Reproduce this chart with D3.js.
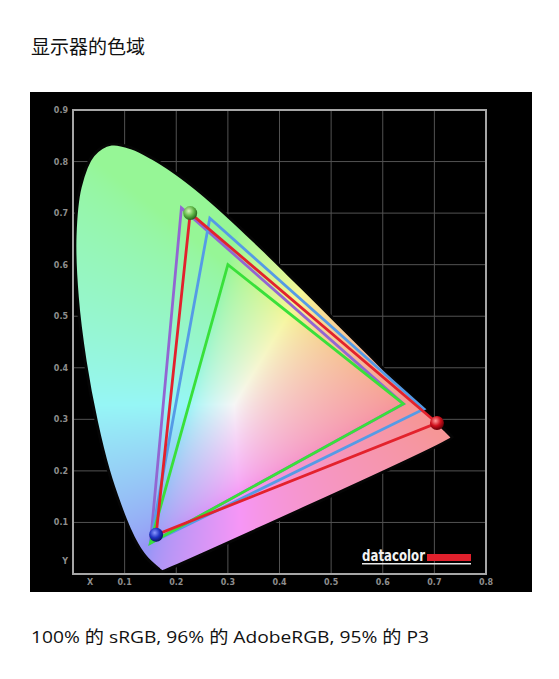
<!DOCTYPE html>
<html>
<head>
<meta charset="utf-8">
<title>显示器的色域</title>
<script src="https://cdn.jsdelivr.net/npm/d3@7"></script>
<style>
  body { margin: 0; background: #fff; }
  svg { display: block; }
  .tick-label { fill: #8e8e8e; font: bold 8px "DejaVu Sans", sans-serif; }
</style>
</head>
<body>
<div id="chart"></div>
<script>
// CIE 1931 spectral locus, 380 -> 700 nm
var locusX = [0.1741, 0.1740, 0.1738, 0.1736, 0.1733, 0.1730, 0.1726, 0.1721, 0.1714, 0.1703,
  0.1689, 0.1669, 0.1644, 0.1611, 0.1566, 0.1510, 0.1440, 0.1355, 0.1241, 0.1096,
  0.0913, 0.0687, 0.0454, 0.0235, 0.0082, 0.0039, 0.0139, 0.0389, 0.0743, 0.1142,
  0.1547, 0.1929, 0.2296, 0.2658, 0.3016, 0.3373, 0.3731, 0.4087, 0.4441, 0.4788,
  0.5125, 0.5448, 0.5752, 0.6029, 0.6270, 0.6482, 0.6658, 0.6801, 0.6915, 0.7006,
  0.7079, 0.7140, 0.7190, 0.7230, 0.7260, 0.7283, 0.7300, 0.7320, 0.7334, 0.7347];
var locusY = [0.0050, 0.0050, 0.0049, 0.0049, 0.0048, 0.0048, 0.0048, 0.0048, 0.0051, 0.0058,
  0.0069, 0.0086, 0.0109, 0.0138, 0.0177, 0.0227, 0.0297, 0.0399, 0.0578, 0.0868,
  0.1327, 0.2007, 0.2950, 0.4127, 0.5384, 0.6548, 0.7502, 0.8120, 0.8338, 0.8262,
  0.8059, 0.7816, 0.7543, 0.7243, 0.6923, 0.6589, 0.6245, 0.5896, 0.5547, 0.5202,
  0.4866, 0.4544, 0.4242, 0.3965, 0.3725, 0.3514, 0.3340, 0.3197, 0.3083, 0.2993,
  0.2920, 0.2859, 0.2809, 0.2770, 0.2740, 0.2717, 0.2700, 0.2680, 0.2666, 0.2653];

// gamut triangles (drawn in this order), primaries in order red, green, blue
var gamutNames = ["AdobeRGB", "P3", "sRGB", "Display"];
var gamutX = [
  [0.640, 0.210, 0.150],
  [0.680, 0.265, 0.150],
  [0.640, 0.300, 0.150],
  [0.705, 0.227, 0.161]
];
var gamutY = [
  [0.330, 0.710, 0.060],
  [0.320, 0.690, 0.060],
  [0.330, 0.600, 0.060],
  [0.293, 0.700, 0.076]
];

var xTicks = [0.1, 0.2, 0.3, 0.4, 0.5, 0.6, 0.7, 0.8];
var yTicks = [0.1, 0.2, 0.3, 0.4, 0.5, 0.6, 0.7, 0.8, 0.9];

var titleText = "显示器的色域";
var captionText = "100% 的 sRGB, 96% 的 AdobeRGB, 95% 的 P3";

var width = 559, height = 679;

var svg = d3.select("#chart").append("svg")
  .attr("width", width)
  .attr("height", height);

// title
svg.append("text")
  .attr("x", 31)
  .attr("y", 54)
  .style("font", "19px 'Noto Sans CJK SC', sans-serif")
  .style("fill", "#111")
  .text(titleText);

// black panel
svg.append("rect")
  .attr("x", 30).attr("y", 92)
  .attr("width", 502).attr("height", 500)
  .attr("fill", "#000");

var x = d3.scaleLinear().domain([0, 0.8]).range([73, 486]);
var y = d3.scaleLinear().domain([0, 0.9]).range([574, 110]);

// grid
var grid = svg.append("g").attr("stroke", "#525252").attr("stroke-width", 1);
grid.selectAll("line.v")
  .data(xTicks.slice(0, -1)).enter()
  .append("line").attr("class", "v")
  .attr("x1", function (d) { return x(d); })
  .attr("x2", function (d) { return x(d); })
  .attr("y1", y(0)).attr("y2", y(0.9));
grid.selectAll("line.h")
  .data(yTicks.slice(0, -1)).enter()
  .append("line").attr("class", "h")
  .attr("y1", function (d) { return y(d); })
  .attr("y2", function (d) { return y(d); })
  .attr("x1", x(0)).attr("x2", x(0.8));

// horseshoe fill, painted on a canvas and clipped to the locus
var locus = locusX.map(function (v, i) { return [v, locusY[i]]; });
var locusLine = d3.line()
  .x(function (d) { return x(d[0]); })
  .y(function (d) { return y(d[1]); })
  .curve(d3.curveCatmullRomClosed.alpha(0.5));

var defs = svg.append("defs");
defs.append("clipPath").attr("id", "locus-clip")
  .append("path").attr("d", locusLine(locus));

function chromaColor(cx, cy) {
  cy = Math.max(cy, 0.002);
  var X = cx / cy, Z = (1 - cx - cy) / cy;
  var r = 3.2406 * X - 1.5372 - 0.4986 * Z;
  var g = -0.9689 * X + 1.8758 + 0.0415 * Z;
  var b = 0.0557 * X - 0.2040 + 1.0570 * Z;
  r = Math.max(r, 0); g = Math.max(g, 0); b = Math.max(b, 0);
  var m = Math.max(r, g, b) || 1;
  return [r, g, b].map(function (c) {
    c = Math.pow(c / m, 1.4);
    c = c <= 0.0031308 ? 12.92 * c : 1.055 * Math.pow(c, 1 / 2.4) - 0.055;
    return Math.round(255 * 0.965 * (0.61 + 0.39 * c));
  });
}

var x0 = x(0), y0 = y(0.9);
var cw = Math.ceil(x(0.8) - x0), ch = Math.ceil(y(0) - y0);
var canvas = document.createElement("canvas");
canvas.width = cw; canvas.height = ch;
var ctx = canvas.getContext("2d");
var img = ctx.createImageData(cw, ch);
for (var py = 0; py < ch; py++) {
  for (var px = 0; px < cw; px++) {
    var col = chromaColor(x.invert(x0 + px + 0.5), y.invert(y0 + py + 0.5));
    var k = (py * cw + px) * 4;
    img.data[k] = col[0]; img.data[k + 1] = col[1]; img.data[k + 2] = col[2]; img.data[k + 3] = 255;
  }
}
ctx.putImageData(img, 0, 0);

svg.append("image")
  .attr("href", canvas.toDataURL())
  .attr("x", x0).attr("y", y0)
  .attr("width", cw).attr("height", ch)
  .attr("preserveAspectRatio", "none")
  .attr("clip-path", "url(#locus-clip)");

// dark rim round the horseshoe, softens the corners
svg.append("path")
  .attr("d", locusLine(locus))
  .attr("fill", "none")
  .attr("stroke", "#050505")
  .attr("stroke-width", 3)
  .attr("stroke-linejoin", "round");

// frame
svg.append("rect")
  .attr("x", x(0)).attr("y", y(0.9))
  .attr("width", x(0.8) - x(0)).attr("height", y(0) - y(0.9))
  .attr("fill", "none")
  .attr("stroke", "#a6a6a6")
  .attr("stroke-width", 2);

// tick labels
svg.selectAll("text.xt")
  .data(xTicks).enter()
  .append("text").attr("class", "tick-label xt")
  .attr("x", function (d) { return x(d); })
  .attr("y", 585)
  .attr("text-anchor", "middle")
  .text(function (d) { return d3.format(".1f")(d); });
svg.append("text").attr("class", "tick-label")
  .attr("x", x(0) + 17).attr("y", 585)
  .attr("text-anchor", "middle").text("X");

svg.selectAll("text.yt")
  .data(yTicks).enter()
  .append("text").attr("class", "tick-label yt")
  .attr("x", 68)
  .attr("y", function (d) { return y(d) + 3; })
  .attr("text-anchor", "end")
  .text(function (d) { return d3.format(".1f")(d); });
svg.append("text").attr("class", "tick-label")
  .attr("x", 68).attr("y", y(0) - 10)
  .attr("text-anchor", "end").text("Y");

// gamut triangles
var gamutColors = ["#9266d2", "#559be6", "#39e03a", "#e3222c"];
var tri = d3.line()
  .x(function (d) { return x(d[0]); })
  .y(function (d) { return y(d[1]); })
  .curve(d3.curveLinearClosed);

svg.selectAll("path.gamut")
  .data(gamutNames).enter()
  .append("path").attr("class", "gamut")
  .attr("d", function (d, i) {
    return tri(gamutX[i].map(function (v, j) { return [v, gamutY[i][j]]; }));
  })
  .attr("fill", "none")
  .attr("stroke", function (d, i) { return gamutColors[i]; })
  .attr("stroke-width", 2.8)
  .attr("stroke-linejoin", "miter");

// glossy balls on the display primaries
var ballColors = [
  ["#ff9a9a", "#d0101c", "#6a0008"],
  ["#d8f8b8", "#62b848", "#24601a"],
  ["#8a98ff", "#2034c4", "#0c1466"]
];
ballColors.forEach(function (c, i) {
  var gr = defs.append("radialGradient")
    .attr("id", "ball" + i)
    .attr("cx", "40%").attr("cy", "35%").attr("r", "65%");
  gr.append("stop").attr("offset", "0%").attr("stop-color", c[0]);
  gr.append("stop").attr("offset", "55%").attr("stop-color", c[1]);
  gr.append("stop").attr("offset", "100%").attr("stop-color", c[2]);
});
var display = gamutNames.length - 1;
svg.selectAll("circle.ball")
  .data(gamutX[display]).enter()
  .append("circle").attr("class", "ball")
  .attr("cx", function (d) { return x(d); })
  .attr("cy", function (d, j) { return y(gamutY[display][j]); })
  .attr("r", 7)
  .attr("fill", function (d, j) { return "url(#ball" + j + ")"; });

// datacolor logo
svg.append("text")
  .attr("x", 362).attr("y", 561)
  .attr("textLength", 63)
  .attr("lengthAdjust", "spacingAndGlyphs")
  .style("font", "bold 15px 'DejaVu Sans', sans-serif")
  .style("fill", "#f2f2f2")
  .text("datacolor");
svg.append("rect")
  .attr("x", 427).attr("y", 554)
  .attr("width", 44).attr("height", 7)
  .attr("fill", "#e0202c");
svg.append("rect")
  .attr("x", 362).attr("y", 563)
  .attr("width", 109).attr("height", 1.5)
  .attr("fill", "#e8e8e8");

// caption
svg.append("text")
  .attr("x", 31)
  .attr("y", 643)
  .attr("textLength", 398)
  .attr("lengthAdjust", "spacingAndGlyphs")
  .style("font", "17px 'Open Sans', 'Noto Sans CJK SC', sans-serif")
  .style("fill", "#111")
  .text(captionText);
</script>
</body>
</html>
